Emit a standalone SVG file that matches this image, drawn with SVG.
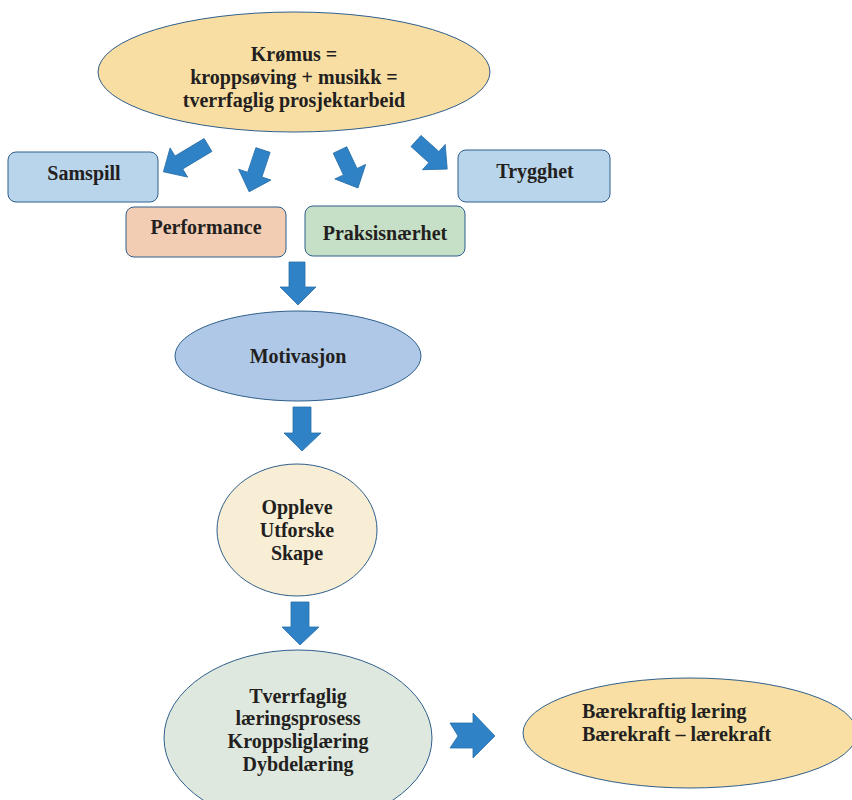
<svg xmlns="http://www.w3.org/2000/svg" width="852" height="800" viewBox="0 0 852 800">
<style>
text{font-family:"Liberation Serif","Times New Roman",serif;font-weight:bold;font-size:20px;fill:#231f20}
.c{text-anchor:middle}
.node{stroke:#2f5f8c;stroke-width:1}
.arr{fill:#2e82c5;stroke:#2a70aa;stroke-width:0.8}
</style>
<rect width="852" height="800" fill="#ffffff"/>
<g id="krmus">
<ellipse class="node" cx="294" cy="72" rx="196" ry="60" fill="#f9dea3"/>
<text class="c" x="294" y="61">Krømus =</text>
<text class="c" x="294" y="84">kroppsøving + musikk =</text>
<text class="c" x="294" y="107">tverrfaglig prosjektarbeid</text>
</g>
<g id="samspill">
<rect class="node" x="8" y="152" width="150" height="50" rx="8" fill="#b9d5ec"/>
<text class="c" x="84" y="180">Samspill</text>
</g>
<g id="trygghet">
<rect class="node" x="458" y="150" width="152" height="52" rx="8" fill="#b9d5ec"/>
<text class="c" x="535" y="178">Trygghet</text>
</g>
<g id="performance">
<rect class="node" x="126" y="207" width="160" height="50" rx="8" fill="#f2cdb4"/>
<text class="c" x="206" y="234">Performance</text>
</g>
<g id="praksis">
<rect class="node" x="305" y="206" width="160" height="50" rx="8" fill="#c6e0c7"/>
<text class="c" x="385" y="240">Praksisnærhet</text>
</g>
<g id="motivasjon">
<ellipse class="node" cx="298" cy="356" rx="123" ry="45" fill="#afc8e7"/>
<text class="c" x="298" y="363">Motivasjon</text>
</g>
<g id="oppleve">
<ellipse class="node" cx="297" cy="530" rx="80" ry="66" fill="#f8eed5"/>
<text class="c" x="297" y="514">Oppleve</text>
<text class="c" x="297" y="537">Utforske</text>
<text class="c" x="297" y="560">Skape</text>
</g>
<g id="tverrfaglig">
<ellipse class="node" cx="298" cy="738" rx="134" ry="88" fill="#dfe8de"/>
<text class="c" x="298" y="703">Tverrfaglig</text>
<text class="c" x="298" y="725">læringsprosess</text>
<text class="c" x="298" y="748">Kroppsliglæring</text>
<text class="c" x="298" y="771">Dybdelæring</text>
</g>
<g id="baerekraft">
<ellipse class="node" cx="690" cy="733" rx="167" ry="55" fill="#f9dfa3"/>
<text x="582" y="718">Bærekraftig læring</text>
<text x="582" y="741">Bærekraft – lærekraft</text>
</g>
<g id="connectors">
<path class="arr" transform="translate(208,145) rotate(149)" d="M0,-7.5 H34 V-17 L52,0 L34,17 V7.5 H0 Z"/>
<path class="arr" transform="translate(263,150) rotate(108.4)" d="M0,-7.5 H26 V-17 L44,0 L26,17 V7.5 H0 Z"/>
<path class="arr" transform="translate(340,150) rotate(64.7)" d="M0,-7.5 H24 V-17 L42,0 L24,17 V7.5 H0 Z"/>
<path class="arr" transform="translate(416,141) rotate(42)" d="M0,-7.5 H24 V-17 L42,0 L24,17 V7.5 H0 Z"/>
<path class="arr" d="M289,262 H305 V287 H316 L298,305 L280,287 H289 Z"/>
<path class="arr" d="M293,407 H311 V433 H321 L302,451 L284,433 H293 Z"/>
<path class="arr" d="M291,602 H309 V627 H319 L300,645 L282,627 H291 Z"/>
<path class="arr" d="M450,723 H473 V713 L495,736 L473,758 V748 H450 L458,736 Z"/>
</g>
</svg>
